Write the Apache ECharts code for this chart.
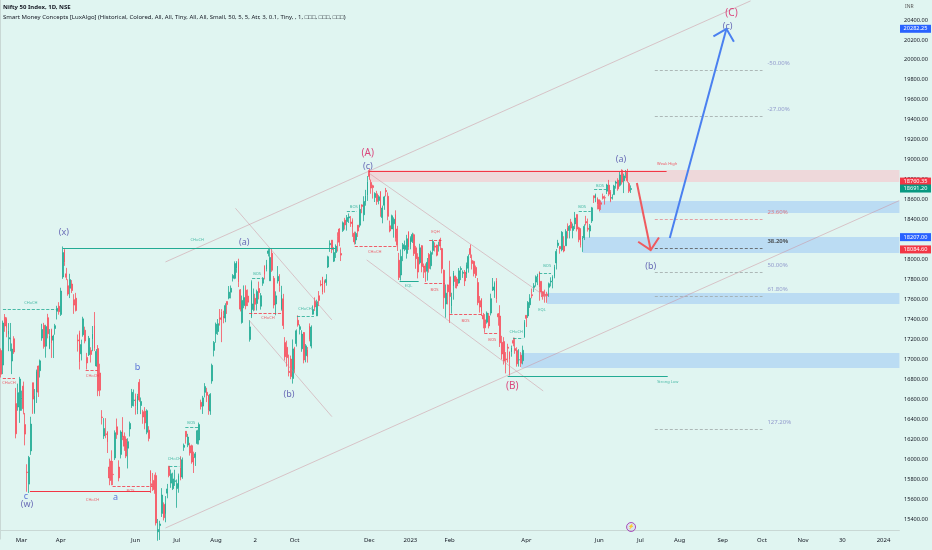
<!DOCTYPE html>
<html>
<head>
<meta charset="utf-8">
<script src="https://cdn.jsdelivr.net/npm/echarts@6/dist/echarts.min.js"></script>
<style>
html, body { margin: 0; padding: 0; background: #e0f5f1; }
#main { width: 932px; height: 550px; }
</style>
</head>
<body>
<div id="main"></div>
<script>
// daily candles, one array per month: [day, open, close, low, high]
var feb22 = [
[14,17077,16842,16809,17099],[15,16933,17352,16843,17376],[16,17408,17322,17264,17441],[17,17398,17304,17210,17408],
[18,17236,17276,17071,17351],[21,17193,17206,17070,17352],[22,16973,17092,16843,17148],[23,17195,17063,17044,17220],
[24,16549,16248,16203,16705],[25,16515,16658,16478,16748],[28,16481,16794,16357,16815]];
var mar22 = [
[2,16593,16606,16478,16678],[3,16723,16498,16442,16768],[4,16340,16245,16133,16456],[7,15867,15863,15671,15945],
[8,15747,16013,15659,16028],[9,16078,16345,16038,16418],[10,16757,16594,16447,16757],[11,16457,16630,16447,16694],
[14,16663,16871,16555,16888],[15,16923,16663,16615,16928],[16,16877,16975,16809,16988],[17,17202,17287,17175,17344],
[21,17329,17117,17096,17353],[22,17121,17316,17006,17334],[23,17405,17245,17199,17443],[24,17095,17223,17091,17291],
[25,17289,17153,17004,17295],[28,17181,17222,17003,17235],[29,17297,17325,17235,17343],[30,17468,17498,17387,17523],
[31,17519,17464,17435,17559]];
var apr22 = [
[1,17437,17670,17422,17703],[4,17810,18053,17791,18114],[5,18080,17957,17921,18095],[6,17842,17807,17779,17901],
[7,17723,17640,17623,17787],[8,17698,17784,17600,17842],[11,17740,17675,17650,17779],[12,17584,17530,17443,17639],
[13,17599,17476,17467,17652],[18,17183,17174,17067,17237],[19,17258,16959,16889,17275],[20,17045,17137,16979,17186],
[21,17234,17393,17215,17414],[22,17280,17172,17149,17315],[25,17009,16954,16889,17054],[26,17035,17200,17023,17223],
[27,17079,17038,16958,17110],[28,17189,17245,17071,17322],[29,17329,17103,17073,17461]];
var may22 = [
[2,16924,17069,16917,17092],[4,17097,16677,16623,17132],[5,16854,16683,16623,16946],[6,16415,16411,16341,16484],
[9,16227,16301,16197,16404],[10,16248,16240,16204,16404],[11,16271,16167,16057,16272],[12,15917,15808,15736,16000],
[13,15977,15782,15736,16084],[16,15845,15842,15737,15977],[17,16008,16259,15987,16282],[18,16318,16240,16198,16400],
[19,15917,15809,15775,15984],[20,16043,16266,16003,16283],[23,16290,16215,16185,16414],[24,16225,16125,16078,16262],
[25,16196,16026,16006,16223],[26,16105,16170,15903,16204],[27,16296,16352,16221,16370],[30,16528,16661,16506,16695],
[31,16579,16585,16521,16690]];
var jun22 = [
[1,16594,16523,16439,16649],[2,16482,16628,16444,16646],[3,16761,16584,16567,16793],[6,16530,16570,16444,16610],
[7,16469,16416,16348,16487],[8,16474,16356,16293,16514],[9,16264,16478,16244,16492],[10,16284,16202,16173,16324],
[13,15877,15774,15659,15886],[14,15750,15732,15679,15858],[15,15784,15692,15651,15841],[16,15832,15360,15335,15863],
[17,15272,15294,15183,15400],[20,15334,15350,15191,15382],[21,15455,15638,15420,15707],[22,15545,15413,15385,15565],
[23,15451,15557,15367,15628],[24,15657,15699,15606,15749],[27,15926,15832,15815,15927],[28,15757,15850,15710,15892],
[29,15702,15799,15688,15861],[30,15774,15780,15729,15890]];
var jul22 = [
[1,15703,15752,15511,15793],[4,15710,15835,15661,15852],[5,15909,15810,15785,16025],[6,15818,15990,15800,16012],
[7,16113,16133,16078,16151],[8,16273,16220,16150,16276],[11,16136,16216,16115,16248],[12,16128,16058,16031,16158],
[13,16130,15967,15950,16140],[14,16018,15938,15858,16070],[15,16011,16049,15928,16066],[18,16152,16279,16142,16288],
[19,16187,16340,16142,16360],[20,16562,16521,16490,16588],[21,16524,16606,16446,16626],[22,16661,16719,16611,16753],
[25,16662,16631,16564,16706],[26,16632,16484,16438,16636],[27,16475,16642,16437,16653],[28,16774,16930,16747,16947],
[29,17079,17158,17019,17172]];
var aug22 = [
[1,17244,17340,17155,17356],[2,17267,17345,17233,17391],[3,17403,17388,17326,17491],[4,17463,17382,17161,17490],
[5,17423,17397,17349,17474],[8,17401,17525,17359,17548],[10,17566,17535,17442,17566],[11,17600,17659,17588,17720],
[12,17659,17698,17597,17725],[16,17797,17825,17765,17839],[17,17797,17944,17788,17965],[18,17898,17956,17852,17968],
[19,17966,17758,17710,17992],[22,17682,17490,17467,17690],[23,17357,17577,17345,17625],[24,17525,17605,17499,17726],
[25,17679,17523,17488,17727],[26,17620,17559,17520,17686],[29,17188,17313,17166,17380],[30,17414,17759,17401,17777]];
var sep22 = [
[1,17486,17542,17469,17695],[2,17598,17539,17476,17643],[5,17546,17665,17476,17684],[6,17695,17655,17587,17764],
[7,17519,17624,17485,17650],[8,17748,17798,17722,17808],[9,17923,17833,17786,17926],[12,17890,17936,17866,17980],
[13,18045,18070,18015,18088],[14,17772,18004,17771,18092],[15,18047,17877,17861,18096],[16,17797,17531,17497,17820],
[19,17541,17622,17429,17667],[20,17770,17816,17745,17919],[21,17766,17718,17663,17838],[22,17486,17630,17475,17722],
[23,17593,17327,17291,17642],[26,17157,17016,16978,17211],[27,17110,17007,16917,17176],[28,16870,16858,16820,17037],
[29,16993,16818,16792,17027],[30,16799,17094,16748,17188]];
var oct22 = [
[3,17102,16887,16855,17114],[4,17147,17274,17117,17288],[6,17379,17331,17315,17428],[7,17287,17315,17238,17337],
[10,17095,17241,17065,17280],[11,17257,16984,16950,17261],[12,17026,17124,16960,17142],[13,17087,17014,16957,17112],
[14,17322,17186,17169,17348],[17,17122,17311,17099,17328],[18,17439,17486,17434,17527],[19,17568,17512,17472,17607],
[20,17423,17564,17421,17584],[21,17623,17576,17520,17670],[24,17736,17730,17717,17777],[25,17809,17656,17637,17812],
[27,17772,17737,17654,17783],[28,17756,17786,17723,17838],[31,17910,18012,17899,18022]];
var nov22 = [
[1,18131,18145,18060,18175],[2,18177,18082,18048,18178],[3,17968,18053,17959,18106],[4,18054,18117,18000,18135],
[7,18211,18203,18064,18255],[9,18288,18157,18117,18296],[10,18044,18028,17969,18103],[11,18272,18350,18259,18363],
[14,18376,18329,18282,18399],[15,18362,18403,18272,18427],[16,18398,18410,18348,18443],[17,18358,18343,18309,18417],
[18,18382,18308,18210,18394],[21,18246,18160,18133,18262],[22,18179,18244,18137,18261],[23,18326,18267,18209,18326],
[24,18326,18484,18304,18530],[25,18528,18513,18445,18534],[28,18430,18562,18366,18614],[29,18552,18618,18520,18678],
[30,18626,18758,18568,18816]];
var dec22 = [
[1,18871,18812,18778,18888],[2,18752,18696,18639,18781],[5,18719,18701,18591,18729],[6,18601,18642,18557,18654],
[7,18638,18561,18528,18668],[8,18571,18609,18534,18625],[9,18662,18497,18410,18664],[12,18402,18497,18345,18521],
[13,18525,18608,18479,18618],[14,18672,18660,18612,18697],[15,18614,18414,18375,18652],[16,18320,18269,18255,18372],
[19,18288,18420,18288,18431],[20,18340,18385,18202,18404],[21,18435,18199,18163,18474],[22,18288,18127,18069,18319],
[23,17977,17806,17780,18050],[26,17830,18015,17775,18084],[27,18089,18132,17968,18149],[28,18085,18123,18068,18173],
[29,18045,18191,17993,18230],[30,18259,18105,18080,18266]];
var jan23 = [
[2,18131,18197,18086,18215],[3,18163,18233,18149,18251],[4,18231,18043,18020,18243],[5,18101,17992,17892,18120],
[6,18008,17859,17796,18047],[9,17952,18101,17936,18141],[10,18122,17914,17857,18127],[11,17924,17896,17800,17944],
[12,17920,17858,17761,17945],[13,17867,17956,17774,17999],[16,18034,17895,17854,18049],[17,17922,18053,17886,18072],
[18,18074,18165,18033,18183],[19,18119,18107,18064,18155],[20,18128,18027,18016,18132],[23,18118,18118,18063,18162],
[24,18183,18118,18078,18201],[25,18093,17892,17846,18100],[27,17877,17604,17493,17884],[30,17541,17649,17405,17735],
[31,17731,17662,17537,17735]];
var feb23 = [
[1,17812,17616,17353,17972],[2,17517,17610,17446,17653],[3,17721,17854,17584,17870],[6,17819,17765,17698,17823],
[7,17790,17721,17695,17811],[8,17750,17871,17744,17899],[9,17885,17894,17779,17916],[10,17847,17856,17801,17876],
[13,17859,17771,17720,17880],[14,17840,17929,17801,17954],[15,17897,18015,17853,18035],[16,18094,18035,17999,18134],
[17,17975,17944,17885,18034],[20,17965,17844,17816,17972],[21,17905,17826,17800,17924],[22,17755,17554,17529,17800],
[23,17574,17511,17455,17620],[24,17591,17465,17421,17599],[27,17428,17392,17299,17452],[28,17383,17304,17255,17440]];
var mar23 = [
[1,17360,17451,17345,17467],[2,17421,17322,17298,17451],[3,17451,17594,17427,17644],[6,17680,17711,17671,17800],
[8,17665,17754,17602,17766],[9,17773,17589,17553,17799],[10,17443,17413,17325,17451],[13,17421,17154,17113,17529],
[14,17160,17043,16988,17224],[15,17167,16972,16938,17211],[16,16994,16985,16850,17062],[17,17111,17100,16958,17145],
[20,17066,16988,16828,17066],[21,17060,17107,17016,17127],[22,17177,17151,17120,17207],[23,17097,17077,17045,17205],
[24,17077,16945,16917,17110],[27,16985,16986,16918,17091],[28,17031,16951,16914,17062],[29,16977,17080,16940,17126],
[31,17210,17360,17205,17381]];
var apr23 = [
[3,17428,17398,17312,17428],[5,17422,17557,17402,17570],[6,17533,17599,17502,17639],[10,17634,17624,17598,17695],
[11,17705,17722,17661,17749],[12,17759,17812,17714,17826],[13,17807,17828,17729,17842],[17,17863,17706,17574,17863],
[18,17767,17660,17610,17767],[19,17664,17618,17584,17667],[20,17638,17624,17554,17684],[21,17639,17624,17553,17663],
[24,17707,17743,17612,17755],[25,17761,17769,17716,17807],[26,17767,17814,17697,17827],[27,17813,17915,17797,17931],
[28,17950,18065,17885,18089]];
var may23 = [
[2,18124,18148,18101,18180],[3,18114,18090,18042,18116],[4,18081,18256,18066,18267],[5,18118,18069,18056,18216],
[8,18121,18264,18120,18286],[9,18303,18266,18194,18344],[10,18273,18315,18194,18326],[11,18358,18297,18270,18389],
[12,18274,18315,18195,18343],[15,18339,18398,18287,18458],[16,18432,18287,18264,18432],[17,18300,18181,18156,18310],
[18,18287,18129,18104,18297],[19,18187,18203,18060,18218],[22,18201,18314,18178,18335],[23,18362,18348,18324,18419],
[24,18295,18285,18262,18392],[25,18268,18321,18202,18338],[26,18369,18499,18348,18508],[29,18619,18599,18547,18620],
[30,18595,18633,18555,18641],[31,18594,18534,18483,18603]];
var jun23 = [
[1,18580,18487,18464,18580],[2,18550,18534,18478,18573],[5,18612,18594,18581,18641],[6,18600,18599,18531,18622],
[7,18665,18726,18636,18738],[8,18725,18635,18615,18777],[9,18656,18563,18555,18676],[12,18595,18601,18581,18633],
[13,18631,18716,18631,18728],[14,18744,18755,18690,18769],[15,18774,18688,18669,18794],[16,18723,18826,18710,18864],
[19,18874,18755,18731,18882],[20,18769,18817,18646,18839],[21,18850,18857,18794,18876],[22,18853,18771,18751,18887],
[23,18741,18665,18647,18756],[26,18682,18691,18647,18722]];

var months = [['2022-02',feb22],['2022-03',mar22],['2022-04',apr22],['2022-05',may22],['2022-06',jun22],
  ['2022-07',jul22],['2022-08',aug22],['2022-09',sep22],['2022-10',oct22],['2022-11',nov22],['2022-12',dec22],
  ['2023-01',jan23],['2023-02',feb23],['2023-03',mar23],['2023-04',apr23],['2023-05',may23],['2023-06',jun23]];

// time scale labels
var tickDates = ['2022-03-02','2022-04-01','2022-06-01','2022-07-01','2022-08-01','2022-09-02','2022-10-03',
  '2022-12-01','2023-01-02','2023-02-01','2023-04-03','2023-06-01','2023-07-03','2023-08-01','2023-09-01',
  '2023-10-02','2023-11-01','2023-11-30','2024-01-01'];
var tickNames = ['Mar','Apr','Jun','Jul','Aug','2','Oct','Dec','2023','Feb','Apr','Jun','Jul','Aug','Sep',
  'Oct','Nov','30','2024'];
var totalBars = 481;

// elliott wave labels (bar index, price)
var waveNames = ['(x)','(a)','b','(b)','c','(w)','a','(A)','(c)','(B)','(a)','(b)','(C)','(c)'];
var waveIdx   = [33.6,130.1,73,154,13.3,13.9,61.3,196.2,196.2,273.5,331.6,347.5,390.7,388.6];
var waveVal   = [18249,18159,16914,16645,15622,15549,15619,19045,18916,16725,18976,17920,20440,20310];

// fib levels of the (a) leg
var fibPct = ['-50.00%','-27.00%','23.60%','38.20%','50.00%','61.80%','127.20%'];
var fibVal = [19872,19408,18387,18093,17855,17617,16297];

// order blocks: start bar, top, bottom
var zoneStart = [197,320,311,292,278];
var zoneTop   = [18876,18567,18209,17651,17053];
var zoneBot   = [18757,18448,18049,17541,16904];

// structure lines: [colour, from bar, to bar, price, style]
var smcLines = [
  ['g',1.07,30.4,17492,'dashed'],['r',1,7.5,16804,'dashed'],['r',45.3,51.7,16884,'dashed'],
  ['r',132.7,150.3,17452,'dashed'],['g',158.3,167.4,17422,'dashed'],['g',134.3,139.6,17800,'dashed'],
  ['g',90,95.4,15928,'dashed'],['g',98.6,105.5,16316,'dashed'],['r',59.7,81,15729,'dashed'],
  ['g',185,190.3,18468,'dashed'],['r',189.2,211.6,18119,'dashed'],['g',213.2,223.4,17771,'solid'],
  ['r',229,235.6,18179,'dashed'],['r',226.5,237.2,17751,'dashed'],['r',239.9,256.9,17442,'dashed'],
  ['r',258.5,266,17253,'dashed'],['g',274,279.3,17203,'dashed'],['g',287.8,294.2,17850,'dashed'],
  ['g',309,315.4,18468,'dashed'],['g',317.2,323.6,18687,'dashed'],
  ['g',33,179,18099,'solid'],['r',15.5,80,15679,'solid'],['g',271,356.6,16824,'solid'],['r',196.7,356,18866,'solid']];
var smcText = [
  ['CHoCH',16,17551,'g'],['CHoCH',4.3,16755,'r'],['CHoCH',49,16824,'r'],['CHoCH',142.8,17402,'r'],
  ['CHoCH',162.6,17492,'g'],['BOS',137,17840,'g'],['CHoCH',92.8,15998,'g'],['BOS',101.8,16356,'g'],
  ['BOS',69.3,15679,'r'],['CHoCH',49,15589,'r'],['CHoCH',105,18179,'g'],['BOS',188.7,18508,'g'],
  ['CHoCH',199.9,18059,'r'],['EQL',218,17721,'g'],['EQH',232.4,18259,'r'],['BOS',231.9,17681,'r'],
  ['BOS',248.4,17372,'r'],['BOS',262.8,17183,'r'],['CHoCH',275.6,17263,'g'],['BOS',292.1,17920,'g'],
  ['EQL',289.4,17482,'g'],['BOS',310.8,18508,'g'],['BOS',320.4,18717,'g'],
  ['Weak High',356.3,18936,'r'],['Strong Low',356.6,16765,'g']];

// trend channels: [from bar, from price, to bar, to price]
var channels = [
  [88,17960,400.9,20560],[88,15310,480.4,18571],[196.7,18846,291.6,17611],
  [195.6,17980,290,16675],[125.4,18495,177,17382],[132.6,17382,177,16419]];

// projected path arrows
var arrows = [[340.1,18747,347.5,18079],[357.7,18199,388,20282]];
var arrowColors = ['#ef5a5f','#4a80f0'];

// right scale tags
var tagVals = [20282.25,18760.35,18691.20,18207.00,18084.60];
var tagColors = ['#2962ff','#f23645','#089981','#2962ff','#f23645'];

// build bars
var dates = [], ohlc = [];
months.forEach(function(m) {
    m[1].forEach(function(r) {
        dates.push(m[0] + '-' + (r[0] < 10 ? '0' : '') + r[0]);
        ohlc.push([r[1], r[2], r[3], r[4]]);
    });
});
var d = new Date(Date.UTC(2023, 5, 27));
while (dates.length < totalBars) {
    var wd = d.getUTCDay();
    if (wd !== 0 && wd !== 6) dates.push(d.toISOString().slice(0, 10));
    d.setUTCDate(d.getUTCDate() + 1);
}

var GREEN = '#22ab94', RED = '#f7525f';
var col = {g: GREEN, r: '#f23645'};
var font = 'Noto Sans, Roboto, sans-serif';

var lineData = [];
channels.forEach(function(c) {
    lineData.push([{coord: [c[0], c[1]], lineStyle: {color: 'rgba(205,140,152,0.6)', width: 0.8, type: 'solid'}},
                   {coord: [c[2], c[3]]}]);
});
smcLines.forEach(function(s) {
    lineData.push([{coord: [s[1], s[3]], lineStyle: {color: col[s[0]], width: s[4] == 'solid' ? 1 : 0.8, type: s[4]}},
                   {coord: [s[2], s[3]]}]);
});
fibVal.forEach(function(v, i) {
    lineData.push([{coord: [349.7, v], lineStyle: {color: i == 3 ? '#555' : (i == 2 ? '#e58a90' : '#a0a8a8'), width: 0.8, type: [3, 2]}},
                   {coord: [407.3, v]}]);
});

var areaData = zoneStart.map(function(s, i) {
    return [{coord: [s, zoneTop[i]], itemStyle: {color: i == 0 ? '#eed8da' : 'rgba(41,121,255,0.2)'}},
            {coord: [481, zoneBot[i]]}];
});

var textData = [];
waveNames.forEach(function(n, i) {
    var big = n == '(A)' || n == '(B)' || n == '(C)';
    var plain = n.length == 1;
    textData.push({value: [waveIdx[i], waveVal[i]], name: n,
        label: {fontSize: big ? 10 : 9, color: big ? '#d81b60' : (plain ? '#3a55d0' : '#4b48a8')}});
});
smcText.forEach(function(t) {
    textData.push({value: [t[1], t[2]], name: t[0], label: {fontSize: 4, color: col[t[3]]}});
});
fibPct.forEach(function(p, i) {
    textData.push({value: [409.9, fibVal[i]], name: p,
        label: {fontSize: 6, align: 'left', offset: [0, -7], fontWeight: i == 3 ? 'bold' : 'normal',
                color: i == 3 ? '#333' : (i == 2 ? '#e0606a' : '#8086c4')}});
});

var chart = echarts.init(document.getElementById('main'));
var option = {
    animation: false,
    backgroundColor: '#e0f5f1',
    grid: [
        {left: -2.94, right: 32.6, top: 0, bottom: 20},
        {left: -2.94, right: 32, top: -3.08, bottom: 10.9}
    ],
    xAxis: [
        {type: 'category', gridIndex: 0, data: dates, boundaryGap: true,
         axisTick: {show: false}, splitLine: {show: false},
         axisLine: {lineStyle: {color: '#c9d8d5'}},
         axisLabel: {
             interval: function(i, v) { return tickDates.indexOf(v) >= 0; },
             formatter: function(v) { return tickNames[tickDates.indexOf(v)]; },
             fontSize: 6, color: '#131722', fontFamily: font, margin: 7
         }},
        {type: 'value', gridIndex: 0, min: -0.5, max: totalBars - 0.5, show: false},
        {type: 'value', gridIndex: 1, show: false}
    ],
    yAxis: [
        {type: 'value', gridIndex: 0, min: 15290, max: 20569, show: false, splitLine: {show: false}},
        {type: 'value', gridIndex: 1, position: 'right', min: 15200, max: 20600, interval: 200,
         splitLine: {show: false}, axisTick: {show: false},
         axisLine: {show: true, lineStyle: {color: '#c9d8d5'}},
         axisLabel: {margin: 4, fontSize: 5.6, color: '#131722', fontFamily: font,
             formatter: function(v) { return (v < 15400 || v > 20400) ? '' : v.toFixed(2); }}}
    ],
    series: [
        {type: 'line', xAxisIndex: 1, yAxisIndex: 0, data: [], z: 1,
         markArea: {silent: true, data: areaData}},
        {type: 'candlestick', xAxisIndex: 0, yAxisIndex: 0, data: ohlc, barWidth: '70%', z: 3,
         itemStyle: {color: GREEN, color0: RED, borderColor: GREEN, borderColor0: RED, borderWidth: 0.8}},
        {type: 'line', xAxisIndex: 1, yAxisIndex: 0, data: [], z: 4,
         markLine: {silent: true, symbol: ['none', 'none'], label: {show: false}, data: lineData}},
        {type: 'scatter', xAxisIndex: 1, yAxisIndex: 0, z: 5, symbolSize: 1,
         itemStyle: {color: 'rgba(0,0,0,0)'}, silent: true,
         label: {show: true, position: 'inside', fontFamily: font,
                 formatter: function(p) { return p.name; }},
         data: textData},
        {type: 'custom', xAxisIndex: 1, yAxisIndex: 0, z: 6, data: arrows, silent: true,
         renderItem: function(params, api) {
             var p0 = api.coord([api.value(0), api.value(1)]);
             var p1 = api.coord([api.value(2), api.value(3)]);
             var ang = Math.atan2(p1[1] - p0[1], p1[0] - p0[0]), L = 15;
             var w1 = [p1[0] - L * Math.cos(ang - Math.PI / 4), p1[1] - L * Math.sin(ang - Math.PI / 4)];
             var w2 = [p1[0] - L * Math.cos(ang + Math.PI / 4), p1[1] - L * Math.sin(ang + Math.PI / 4)];
             var c = arrowColors[params.dataIndex];
             return {type: 'group', children: [
                 {type: 'line', shape: {x1: p0[0], y1: p0[1], x2: p1[0], y2: p1[1]}, style: {stroke: c, lineWidth: 2}},
                 {type: 'polyline', shape: {points: [w1, p1, w2]}, style: {stroke: c, lineWidth: 2, fill: null}}
             ]};
         }}
    ]
};
chart.setOption(option);

// header, scale tags and the event marker
var g = [
    {type: 'text', left: 3, top: 4, style: {text: 'Nifty 50 Index, 1D, NSE', font: 'bold 6px ' + font, fill: '#131722'}},
    {type: 'text', left: 3, top: 14, style: {text: 'Smart Money Concepts [LuxAlgo] (Historical, Colored, All, All, Tiny, All, All, Small, 50, 5, 5, Atr, 3, 0.1, Tiny, , 1, \u25A1\u25A1\u25A1, \u25A1\u25A1\u25A1, \u25A1\u25A1\u25A1)', font: '6px ' + font, fill: '#131722'}},
    {type: 'text', left: 905, top: 4, style: {text: 'INR', font: '5px ' + font, fill: '#555'}}
];
tagVals.forEach(function(v, i) {
    var y = chart.convertToPixel({yAxisIndex: 0}, v);
    g.push({type: 'rect', shape: {x: 900, y: y - 4, width: 31, height: 8}, style: {fill: tagColors[i]}, z: 50});
    g.push({type: 'text', x: 915.5, y: y, z: 51,
            style: {text: v.toFixed(2), font: '5.6px ' + font, fill: '#fff', textAlign: 'center', textVerticalAlign: 'middle'}});
});
var ex = chart.convertToPixel({xAxisIndex: 0}, dates[337]);
g.push({type: 'circle', shape: {cx: ex, cy: 527, r: 4.5}, style: {fill: 'rgba(156,39,176,0.08)', stroke: '#9c27b0', lineWidth: 0.8}, z: 50});
g.push({type: 'text', x: ex, y: 527, z: 51, style: {text: '\u26A1', font: '5px ' + font, fill: '#9c27b0', textAlign: 'center', textVerticalAlign: 'middle'}});
chart.setOption({graphic: g});
</script>
</body>
</html>
